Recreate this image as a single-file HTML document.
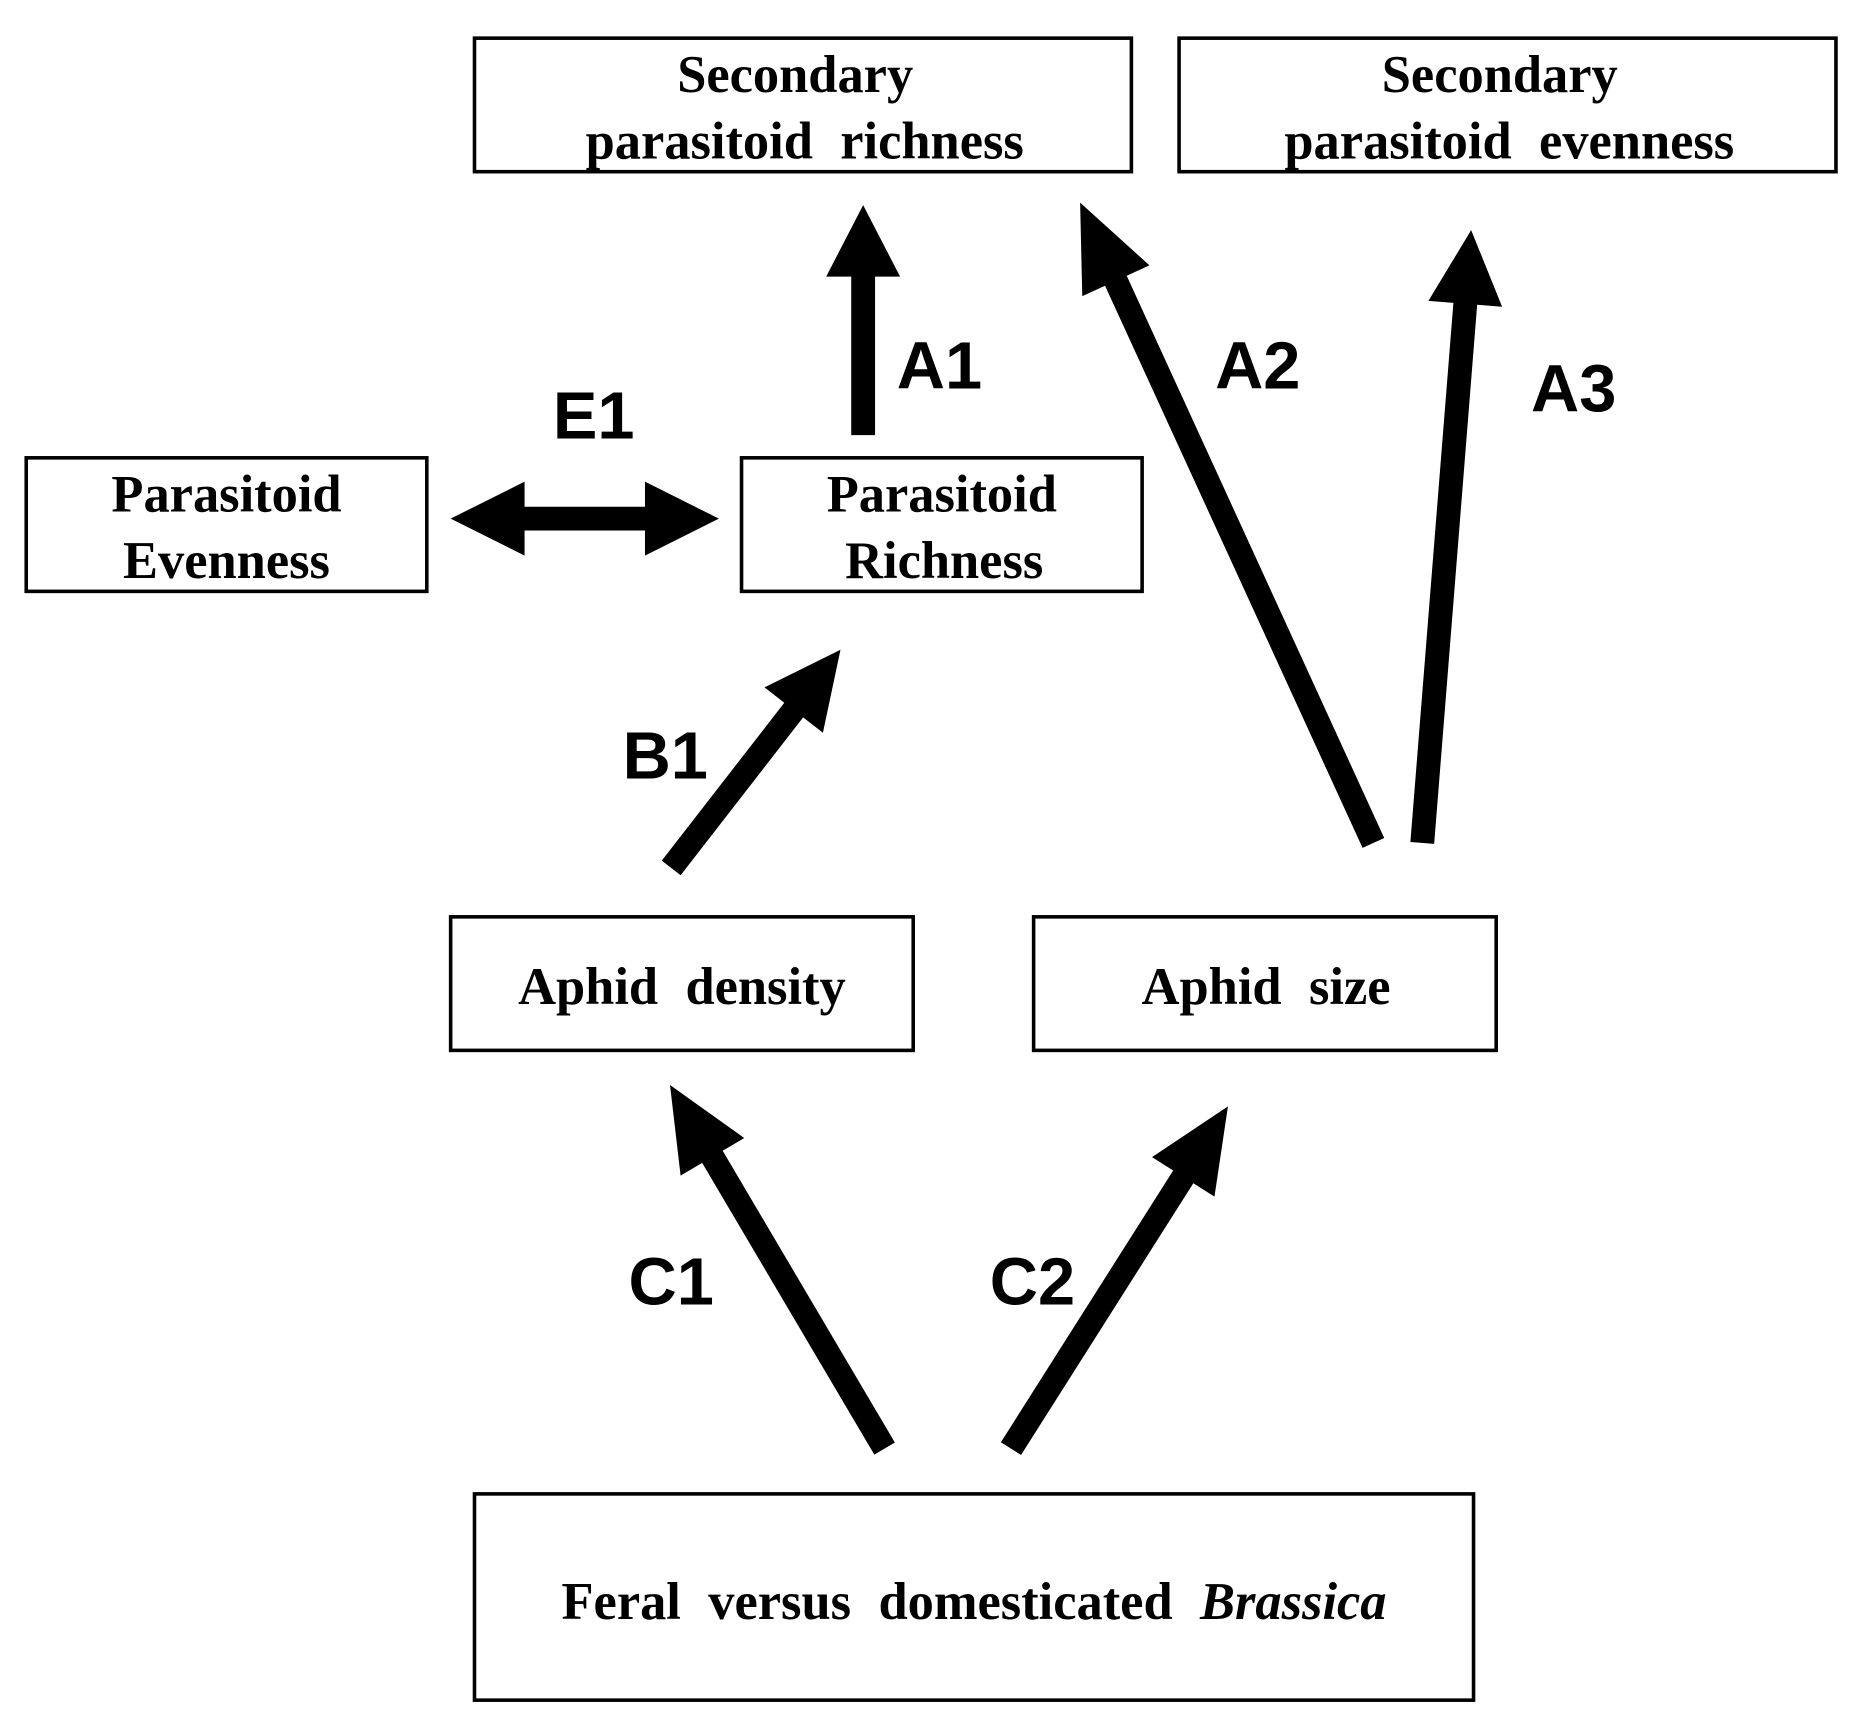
<!DOCTYPE html>
<html><head><meta charset="utf-8"><style>
html,body{margin:0;padding:0;background:#fff;width:1861px;height:1724px;overflow:hidden}
svg{display:block}
.s{font-family:"Liberation Serif",serif;font-weight:bold;font-size:44px;word-spacing:12px;text-anchor:middle}
.l{font-family:"Liberation Sans",sans-serif;font-weight:bold;font-size:56px;text-anchor:middle}
rect{fill:#fff;stroke:#000;stroke-width:3}
</style></head><body>
<svg id="g" width="1861" height="1724" viewBox="0 0 1561 1446" preserveAspectRatio="none" xmlns="http://www.w3.org/2000/svg">
<rect x="398" y="32" width="551" height="112"/>
<text class="s" x="667" y="77">Secondary</text>
<text class="s" x="675" y="133">parasitoid richness</text>
<rect x="989" y="32" width="551" height="112"/>
<text class="s" x="1258" y="77">Secondary</text>
<text class="s" x="1266" y="133">parasitoid evenness</text>
<rect x="22" y="384" width="336" height="112"/>
<text class="s" x="190" y="429">Parasitoid</text>
<text class="s" x="190" y="485">Evenness</text>
<rect x="622" y="384" width="336" height="112"/>
<text class="s" x="790" y="429">Parasitoid</text>
<text class="s" x="792" y="485">Richness</text>
<rect x="378" y="769" width="388" height="112"/>
<text class="s" x="572" y="842">Aphid density</text>
<rect x="867" y="769" width="388" height="112"/>
<text class="s" x="1062" y="842">Aphid size</text>
<rect x="398" y="1253" width="838" height="173"/>
<text class="s" x="817" y="1358">Feral versus domesticated <tspan font-style="italic">Brassica</tspan></text>
<text class="l" x="788" y="326">A1</text>
<text class="l" x="1055" y="326">A2</text>
<text class="l" x="1320" y="345">A3</text>
<text class="l" x="498" y="368">E1</text>
<text class="l" x="558" y="653">B1</text>
<text class="l" x="563" y="1094">C1</text>
<text class="l" x="866" y="1094">C2</text>
<polygon points="378,435 440,404 440,425 541,425 541,404 603,435 541,466 541,445 440,445 440,466"/>
</svg>
<script>
var g=document.getElementById('g');
function arr(x1,y1,x2,y2,sw,hl,hw){
var dx=x2-x1,dy=y2-y1,L=Math.hypot(dx,dy),ux=dx/L,uy=dy/L,px=-uy,py=ux;
var bx=x2-ux*hl,by=y2-uy*hl,s=sw/2,h=hw/2;
var p=[[x1+px*s,y1+py*s],[bx+px*s,by+py*s],[bx+px*h,by+py*h],[x2,y2],[bx-px*h,by-py*h],[bx-px*s,by-py*s],[x1-px*s,y1-py*s]];
var e=document.createElementNS('http://www.w3.org/2000/svg','polygon');
e.setAttribute('points',p.map(function(q){return q.join(',')}).join(' '));g.appendChild(e);}
arr(724,365,724,172,20,60,62);
arr(1152,707,906,170,20,72,62);
arr(1193,707,1234,193,20,62,62);
arr(563,728,705,545,20,64,62);
arr(742,1215,562,910,20,70,62);
arr(848,1215,1030,928,20,70,62);
</script>
</body></html>
